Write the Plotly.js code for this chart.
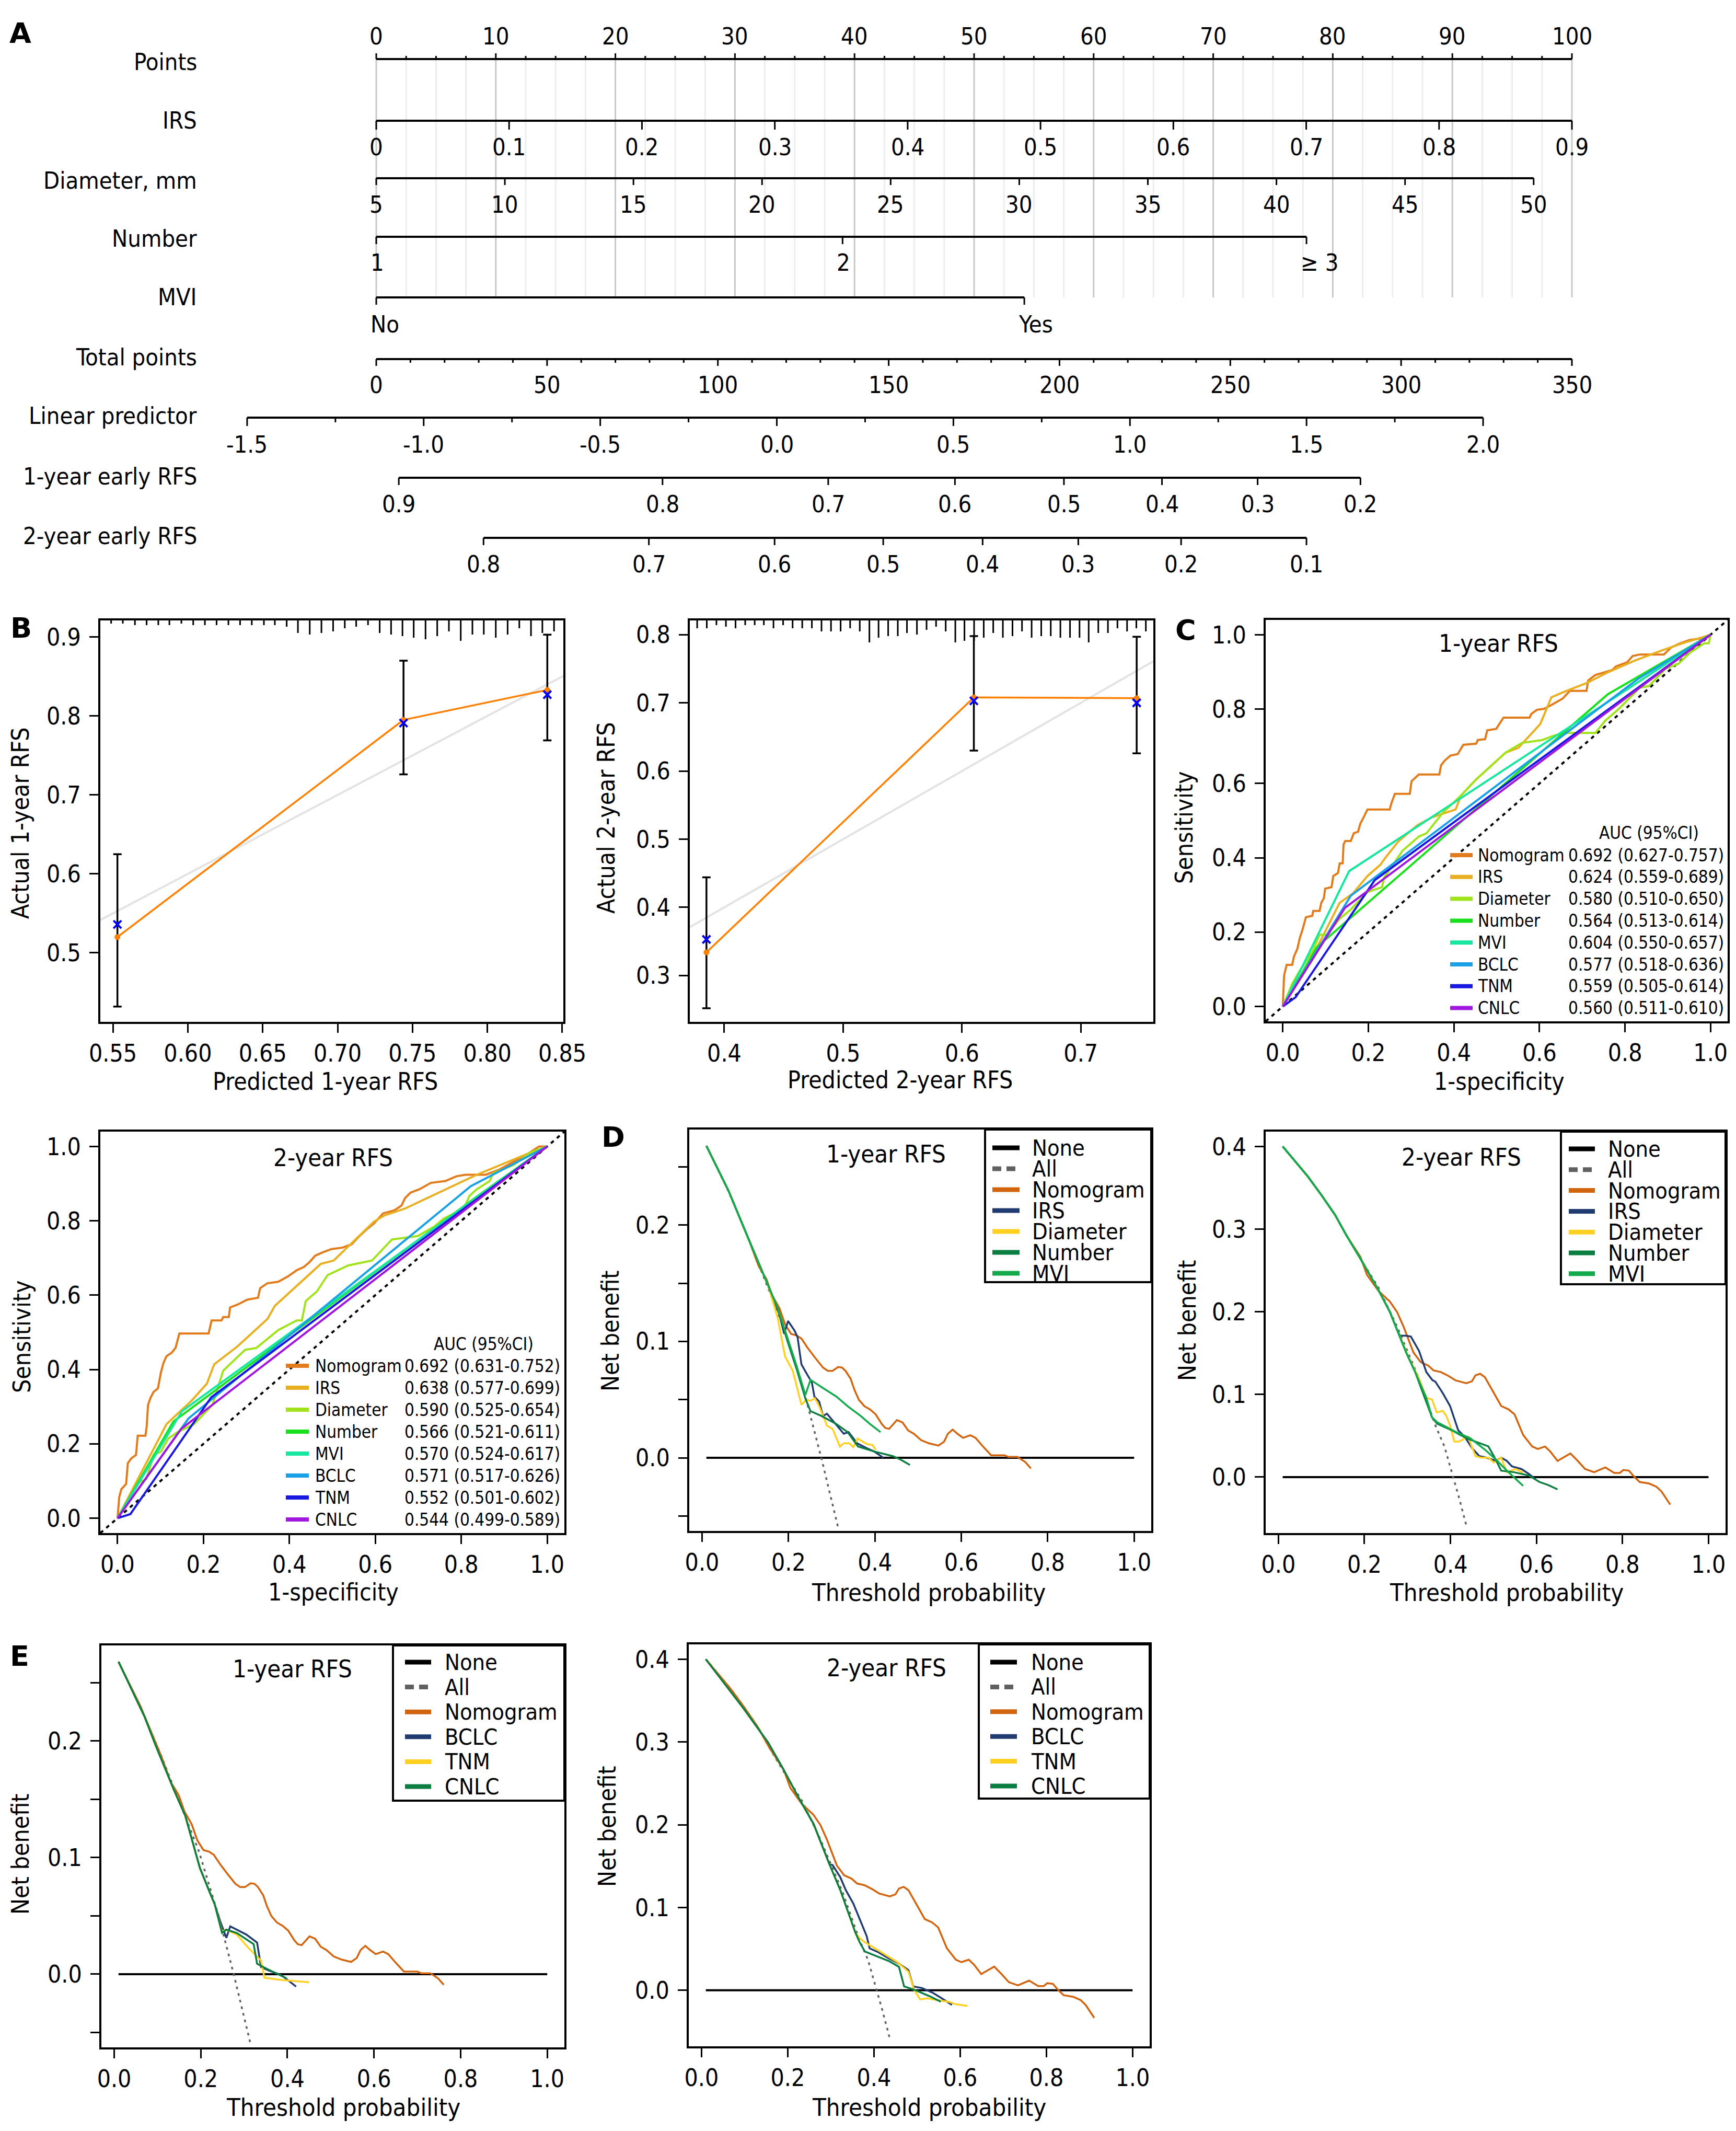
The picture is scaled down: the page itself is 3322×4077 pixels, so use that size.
<!DOCTYPE html>
<html>
<head>
<meta charset="utf-8">
<script src="https://cdn.plot.ly/plotly-3.0.1.min.js"></script>
<style>
  html, body { margin: 0; padding: 0; background: #fff; }
  #fig { width: 3322px; height: 4077px; }
</style>
</head>
<body>
<div id="fig"></div>
<script>
// ================= Data =================
// ---- A: nomogram scales ----
const nomoRowLabels = ['Points', 'IRS', 'Diameter, mm', 'Number', 'MVI', 'Total points',
  'Linear predictor', '1-year early RFS', '2-year early RFS'];
const pointsTicks = [0, 10, 20, 30, 40, 50, 60, 70, 80, 90, 100];
const pointsMinorStep = 2.5;
const irsTicks = [0, 0.1, 0.2, 0.3, 0.4, 0.5, 0.6, 0.7, 0.8, 0.9];
const irsScale = [0, 0.9];
const irsPointsScale = [0, 100];
const diameterTicks = [5, 10, 15, 20, 25, 30, 35, 40, 45, 50];
const diameterScale = [5, 50];
const diameterPointsScale = [0, 96.8];
const numberLevels = ['1', '2', '\u2265 3'];
const numberPoints = [0, 39.0, 77.8];
const mviLevels = ['No', 'Yes'];
const mviPoints = [0, 54.2];
const totalTicks = [0, 50, 100, 150, 200, 250, 300, 350];
const totalMinorStep = 10;
const totalScale = [0, 350];
const lpTicks = [-1.5, -1.0, -0.5, 0.0, 0.5, 1.0, 1.5, 2.0];
const lpMinorStep = 0.25;
const lpScale = [-1.5, 2.0];
const lpTotalScale = [-37.8, 324.0];
const rfs1Ticks = ['0.9', '0.8', '0.7', '0.6', '0.5', '0.4', '0.3', '0.2'];
const rfs1Total = [6.6, 83.8, 132.3, 169.4, 201.3, 230.0, 258.0, 288.1];
const rfs2Ticks = ['0.8', '0.7', '0.6', '0.5', '0.4', '0.3', '0.2', '0.1'];
const rfs2Total = [31.4, 79.8, 116.6, 148.4, 177.5, 205.5, 235.6, 272.3];

// ---- B: calibration ----
const cal1Pred = [0.553, 0.744, 0.840];
const cal1Apparent = [0.520, 0.795, 0.833];
const cal1Corrected = [0.536, 0.791, 0.827];
const cal1Lower = [0.432, 0.726, 0.769];
const cal1Upper = [0.625, 0.870, 0.903];
const cal1RugX = [0.5488, 0.5566, 0.5647, 0.5725, 0.5803, 0.5877, 0.5957, 0.6036, 0.6114, 0.6192,
  0.6271, 0.6349, 0.6427, 0.6508, 0.6581, 0.6660, 0.6735, 0.6814, 0.6892, 0.6970,
  0.7048, 0.7124, 0.7203, 0.7281, 0.7357, 0.7433, 0.7508, 0.7587, 0.7665, 0.7743,
  0.7822, 0.7900, 0.7976, 0.8056, 0.8135, 0.8213, 0.8291, 0.8367, 0.8445];
const cal1RugN = [2, 2, 3, 3, 3, 3, 2, 3, 3, 3, 3, 3, 3, 3, 3, 4, 8, 9, 8, 7,
  5, 4, 3, 8, 9, 10, 11, 12, 10, 7, 13, 9, 9, 11, 9, 5, 10, 8, 7];

const cal2Pred = [0.385, 0.610, 0.747];
const cal2Apparent = [0.334, 0.708, 0.707];
const cal2Corrected = [0.353, 0.703, 0.700];
const cal2Lower = [0.252, 0.630, 0.626];
const cal2Upper = [0.444, 0.798, 0.797];
const cal2RugX = [0.3772, 0.3853, 0.3934, 0.4014, 0.4095, 0.4176, 0.4256, 0.4333, 0.4414, 0.4495,
  0.4575, 0.4656, 0.4737, 0.4818, 0.4898, 0.4979, 0.5059, 0.5140, 0.5221, 0.5298,
  0.5379, 0.5460, 0.5537, 0.5621, 0.5702, 0.5782, 0.5863, 0.5944, 0.6021, 0.6102,
  0.6183, 0.6263, 0.6344, 0.6425, 0.6505, 0.6586, 0.6667, 0.6747, 0.6828, 0.6909,
  0.6989, 0.7066, 0.7147, 0.7228, 0.7308, 0.7389, 0.7467, 0.7547];
const cal2RugN = [5, 5, 3, 4, 5, 3, 3, 3, 5, 3, 5, 5, 5, 7, 7, 7, 5, 7, 14, 11,
  10, 10, 8, 9, 6, 4, 7, 14, 13, 13, 11, 8, 11, 10, 7, 11, 10, 10, 11, 11,
  11, 14, 8, 8, 5, 7, 5, 7];

// ---- C: ROC curves (1-specificity, sensitivity) ----
const rocNames = ['Nomogram', 'IRS', 'Diameter', 'Number', 'MVI', 'BCLC', 'TNM', 'CNLC'];
const auc1 = [0.692, 0.624, 0.580, 0.564, 0.604, 0.577, 0.559, 0.560];
const auc1Lo = [0.627, 0.559, 0.510, 0.513, 0.550, 0.518, 0.505, 0.511];
const auc1Hi = [0.757, 0.689, 0.650, 0.614, 0.657, 0.636, 0.614, 0.610];
const auc2 = [0.692, 0.638, 0.590, 0.566, 0.570, 0.571, 0.552, 0.544];
const auc2Lo = [0.631, 0.577, 0.525, 0.521, 0.524, 0.517, 0.501, 0.499];
const auc2Hi = [0.752, 0.699, 0.654, 0.611, 0.617, 0.626, 0.602, 0.589];

const roc1Nomogram = [[0,0],[0.003,0.083],[0.009,0.112],[0.022,0.112],[0.026,0.134],[0.034,0.155],[0.040,0.185],[0.047,0.21],[0.054,0.24],[0.069,0.244],[0.071,0.257],[0.086,0.257],[0.090,0.279],[0.096,0.291],[0.099,0.317],[0.114,0.321],[0.118,0.351],[0.129,0.359],[0.133,0.385],[0.140,0.385],[0.142,0.436],[0.146,0.445],[0.159,0.445],[0.166,0.466],[0.176,0.47],[0.181,0.491],[0.189,0.509],[0.198,0.53],[0.250,0.53],[0.254,0.547],[0.262,0.572],[0.297,0.572],[0.301,0.606],[0.318,0.624],[0.366,0.624],[0.370,0.649],[0.379,0.662],[0.392,0.675],[0.409,0.679],[0.413,0.687],[0.422,0.704],[0.452,0.707],[0.456,0.717],[0.473,0.719],[0.478,0.743],[0.499,0.747],[0.516,0.777],[0.577,0.777],[0.581,0.787],[0.594,0.798],[0.611,0.801],[0.628,0.811],[0.641,0.819],[0.654,0.828],[0.671,0.849],[0.710,0.849],[0.714,0.877],[0.731,0.892],[0.770,0.905],[0.779,0.915],[0.805,0.926],[0.818,0.943],[0.835,0.947],[0.891,0.947],[0.908,0.966],[0.929,0.977],[0.951,0.986],[0.977,0.990],[1,1]];
const roc1IRS = [[0,0],[0.047,0.087],[0.090,0.181],[0.133,0.279],[0.164,0.304],[0.198,0.351],[0.228,0.381],[0.241,0.402],[0.271,0.445],[0.314,0.487],[0.349,0.509],[0.404,0.53],[0.417,0.568],[0.452,0.611],[0.521,0.683],[0.551,0.696],[0.602,0.760],[0.628,0.832],[0.663,0.849],[0.710,0.870],[0.762,0.900],[0.822,0.930],[0.882,0.956],[0.934,0.977],[1,1]];
const roc1Diameter = [[0,0],[0.022,0.061],[0.039,0.095],[0.069,0.147],[0.086,0.193],[0.103,0.193],[0.133,0.236],[0.159,0.261],[0.198,0.308],[0.232,0.321],[0.237,0.347],[0.280,0.419],[0.318,0.457],[0.336,0.466],[0.374,0.521],[0.417,0.568],[0.448,0.606],[0.482,0.641],[0.521,0.683],[0.559,0.709],[0.607,0.717],[0.637,0.730],[0.667,0.736],[0.731,0.736],[0.753,0.768],[0.787,0.802],[0.813,0.832],[0.835,0.858],[0.856,0.862],[0.873,0.883],[0.895,0.909],[0.925,0.922],[0.951,0.951],[0.985,0.977],[0.996,0.977],[1,1]];
const roc1Number = [[0,0],[0.08,0.16],[0.76,0.84],[1,1]];
const roc1MVI = [[0,0],[0.155,0.364],[1,1]];
const roc1BCLC = [[0,0],[0.159,0.298],[0.830,0.881],[1,1]];
const roc1TNM = [[0,0],[0.03,0.025],[0.215,0.34],[1,1]];
const roc1CNLC = [[0,0],[0.145,0.265],[1,1]];

const roc2Nomogram = [[0,0],[0.004,0.057],[0.009,0.078],[0.020,0.092],[0.024,0.148],[0.032,0.161],[0.043,0.170],[0.047,0.222],[0.065,0.222],[0.068,0.248],[0.071,0.305],[0.077,0.324],[0.084,0.340],[0.094,0.349],[0.101,0.392],[0.107,0.418],[0.114,0.436],[0.126,0.445],[0.135,0.458],[0.139,0.475],[0.144,0.497],[0.212,0.497],[0.219,0.532],[0.242,0.532],[0.246,0.541],[0.259,0.541],[0.262,0.567],[0.280,0.575],[0.302,0.588],[0.327,0.593],[0.332,0.619],[0.349,0.632],[0.374,0.636],[0.396,0.650],[0.417,0.667],[0.434,0.676],[0.447,0.689],[0.460,0.706],[0.477,0.715],[0.498,0.724],[0.524,0.728],[0.545,0.737],[0.562,0.758],[0.579,0.776],[0.597,0.793],[0.618,0.820],[0.644,0.828],[0.661,0.841],[0.669,0.861],[0.682,0.876],[0.703,0.885],[0.729,0.902],[0.763,0.907],[0.789,0.920],[0.810,0.924],[0.857,0.924],[0.887,0.937],[0.956,0.981],[0.981,1.0],[1,1]];
const roc2IRS = [[0,0],[0.114,0.253],[0.174,0.318],[0.208,0.362],[0.225,0.414],[0.279,0.462],[0.349,0.536],[0.366,0.571],[0.473,0.684],[0.503,0.693],[0.597,0.798],[0.622,0.815],[0.669,0.833],[0.836,0.924],[0.956,0.981],[1,1]];
const roc2Diameter = [[0,0],[0.050,0.096],[0.067,0.105],[0.084,0.170],[0.101,0.179],[0.118,0.214],[0.139,0.231],[0.178,0.253],[0.221,0.305],[0.246,0.397],[0.297,0.453],[0.323,0.458],[0.374,0.506],[0.417,0.532],[0.429,0.532],[0.438,0.584],[0.464,0.610],[0.489,0.654],[0.537,0.680],[0.592,0.693],[0.639,0.750],[0.665,0.754],[0.699,0.759],[0.738,0.785],[0.759,0.806],[0.806,0.833],[0.819,0.867],[0.836,0.885],[0.866,0.907],[0.874,0.928],[0.921,0.950],[0.964,0.985],[1,1]];
const roc2Number = [[0,0],[0.13,0.26],[0.83,0.86],[1,1]];
const roc2MVI = [[0,0],[0.15,0.288],[1,1]];
const roc2BCLC = [[0,0],[0.165,0.268],[0.822,0.893],[1,1]];
const roc2TNM = [[0,0],[0.03,0.011],[0.218,0.325],[1,1]];
const roc2CNLC = [[0,0],[0.148,0.240],[1,1]];

// ---- D/E: decision curves (threshold, net benefit) ----
const dcaNone = [[0.01, 0], [1.0, 0]];
const dca1All = [[0.01,0.268],[0.061,0.229],[0.109,0.187],[0.153,0.146],[0.195,0.106],[0.241,0.050],[0.276,0.0],[0.315,-0.060]];
const dca1Nomogram = [[0.01,0.268],[0.061,0.2296],[0.109,0.1867],[0.131,0.1646],[0.149,0.1535],[0.162,0.1397],[0.179,0.1286],[0.192,0.1148],[0.206,0.1065],[0.219,0.1051],[0.230,0.1024],[0.245,0.0941],[0.262,0.0858],[0.280,0.0775],[0.291,0.0747],[0.302,0.0747],[0.315,0.078],[0.324,0.0775],[0.332,0.0747],[0.344,0.0678],[0.353,0.0581],[0.363,0.0498],[0.376,0.0443],[0.389,0.0415],[0.402,0.0373],[0.416,0.029],[0.424,0.0257],[0.433,0.0249],[0.451,0.0324],[0.464,0.0304],[0.477,0.0235],[0.490,0.0207],[0.507,0.0152],[0.525,0.0125],[0.547,0.0105],[0.560,0.0138],[0.569,0.0207],[0.580,0.0243],[0.591,0.0207],[0.604,0.0172],[0.621,0.0194],[0.633,0.0172],[0.647,0.0111],[0.669,0.0022],[0.700,0.0022],[0.709,0.0008],[0.730,0.0008],[0.748,-0.0036],[0.761,-0.0091]];
const dca1IRS = [[0.01,0.268],[0.061,0.2296],[0.109,0.1867],[0.153,0.148],[0.179,0.1231],[0.190,0.1065],[0.199,0.1176],[0.214,0.1093],[0.221,0.1037],[0.230,0.0802],[0.245,0.0705],[0.254,0.065],[0.260,0.0526],[0.271,0.0484],[0.280,0.036],[0.289,0.0379],[0.306,0.0304],[0.328,0.0207],[0.339,0.0221],[0.350,0.0166],[0.359,0.0125],[0.381,0.0083],[0.398,0.0055],[0.420,0.0]];
const dca1Diameter = [[0.01,0.268],[0.061,0.2296],[0.109,0.1867],[0.153,0.148],[0.175,0.1203],[0.192,0.0871],[0.210,0.0747],[0.221,0.0581],[0.230,0.0456],[0.241,0.0498],[0.251,0.049],[0.261,0.0512],[0.271,0.0443],[0.280,0.036],[0.289,0.0277],[0.302,0.0249],[0.319,0.0097],[0.328,0.0125],[0.341,0.0125],[0.350,0.0091],[0.360,0.0166],[0.381,0.0119],[0.394,0.0111],[0.402,0.0069]];
const dca1Number = [[0.01,0.268],[0.061,0.2296],[0.109,0.1867],[0.153,0.148],[0.175,0.1286],[0.197,0.101],[0.219,0.0761],[0.239,0.0512],[0.251,0.0401],[0.276,0.036],[0.311,0.029],[0.337,0.0221],[0.361,0.0097],[0.398,0.0055],[0.442,0.0014],[0.459,-0.0014],[0.481,-0.0061]];
const dca1MVI = [[0.01,0.268],[0.061,0.2296],[0.109,0.1867],[0.153,0.148],[0.175,0.1286],[0.197,0.1038],[0.219,0.0788],[0.239,0.054],[0.251,0.067],[0.276,0.0609],[0.311,0.0526],[0.337,0.0443],[0.367,0.036],[0.389,0.029],[0.413,0.0221]];
const dca1StageStart = [[0.01,0.268],[0.07,0.221],[0.096,0.196],[0.138,0.158],[0.164,0.136],[0.198,0.091],[0.219,0.0717],[0.232,0.0600]];
const dca1BCLC = dca1StageStart.concat([[0.245,0.0452],[0.253,0.0368],[0.259,0.0312],[0.268,0.041],[0.283,0.0382],[0.305,0.034],[0.330,0.0271],[0.339,0.0061],[0.356,0.0033],[0.386,-0.0008],[0.420,-0.0106]]);
const dca1TNM = dca1StageStart.concat([[0.249,0.0368],[0.259,0.0382],[0.283,0.034],[0.309,0.0229],[0.339,0.0117],[0.347,-0.0031],[0.386,-0.005],[0.420,-0.0059],[0.450,-0.007]]);
const dca1CNLC = dca1StageStart.concat([[0.249,0.0354],[0.259,0.0382],[0.283,0.0354],[0.322,0.0257],[0.330,0.0089],[0.352,0.0047],[0.398,-0.0036]]);

const dca2All = [[0.01,0.400],[0.028,0.389],[0.068,0.364],[0.099,0.342],[0.132,0.317],[0.157,0.2935],[0.191,0.264],[0.233,0.229],[0.276,0.182],[0.327,0.119],[0.365,0.0626],[0.386,0.037],[0.406,0.0],[0.420,-0.025],[0.437,-0.0587]];
const dca2Nomogram = [[0.01,0.40],[0.028,0.389],[0.068,0.364],[0.099,0.342],[0.132,0.317],[0.157,0.2935],[0.191,0.266],[0.206,0.2446],[0.233,0.225],[0.259,0.2125],[0.276,0.1996],[0.291,0.182],[0.301,0.168],[0.314,0.1507],[0.331,0.139],[0.348,0.135],[0.361,0.129],[0.378,0.127],[0.395,0.1225],[0.412,0.117],[0.437,0.1135],[0.450,0.116],[0.458,0.123],[0.469,0.125],[0.480,0.121],[0.497,0.1057],[0.518,0.086],[0.535,0.082],[0.549,0.076],[0.569,0.051],[0.590,0.037],[0.603,0.034],[0.620,0.037],[0.632,0.031],[0.649,0.0196],[0.662,0.0235],[0.679,0.0286],[0.696,0.0196],[0.713,0.0098],[0.734,0.0059],[0.760,0.0117],[0.781,0.0051],[0.794,0.0051],[0.802,0.0086],[0.815,0.0078],[0.828,0.0],[0.840,-0.0059],[0.862,-0.0078],[0.879,-0.0117],[0.891,-0.0176],[0.911,-0.0333]];
const dca2FactorStart = [[0.01,0.400],[0.028,0.389],[0.068,0.364],[0.099,0.342],[0.132,0.317],[0.157,0.2935],[0.191,0.264],[0.233,0.226],[0.259,0.200],[0.276,0.178]];
const dca2IRS = dca2FactorStart.concat([[0.283,0.171],[0.297,0.171],[0.308,0.170],[0.327,0.1526],[0.344,0.127],[0.358,0.1174],[0.365,0.1154],[0.382,0.1017],[0.399,0.0861],[0.418,0.0567],[0.433,0.0489],[0.450,0.0352],[0.467,0.0254],[0.484,0.0235],[0.505,0.0196],[0.518,0.0235],[0.531,0.0196],[0.543,0.0129],[0.565,0.0098],[0.582,0.0039],[0.598,-0.0027]]);
const dca2Diameter = dca2FactorStart.concat([[0.283,0.170],[0.301,0.1467],[0.327,0.119],[0.344,0.0959],[0.357,0.0939],[0.368,0.0783],[0.382,0.0802],[0.390,0.0744],[0.399,0.0626],[0.409,0.043],[0.420,0.043],[0.441,0.0489],[0.458,0.0254],[0.471,0.0235],[0.488,0.0235],[0.501,0.0176],[0.518,0.0235],[0.531,0.0059],[0.552,0.0098],[0.569,0.0051]]);
const dca2Number = dca2FactorStart.concat([[0.297,0.1507],[0.318,0.127],[0.344,0.09],[0.357,0.0724],[0.369,0.0646],[0.403,0.0567],[0.437,0.047],[0.467,0.0411],[0.488,0.0372],[0.501,0.0254],[0.518,0.0078],[0.548,0.0059],[0.582,0.002],[0.607,-0.0059],[0.628,-0.0098],[0.649,-0.0149]]);
const dca2MVI = dca2FactorStart.concat([[0.297,0.1507],[0.318,0.127],[0.344,0.0959],[0.357,0.0724],[0.369,0.0665],[0.412,0.0548],[0.446,0.047],[0.480,0.0333],[0.509,0.0196],[0.535,0.0059],[0.569,-0.0106]]);
const dca2StageStart = [[0.01,0.400],[0.048,0.374],[0.097,0.341],[0.154,0.2997],[0.189,0.268],[0.225,0.233],[0.260,0.201],[0.297,0.152]];
const dca2BCLC = dca2StageStart.concat([[0.304,0.1514],[0.322,0.1365],[0.335,0.1207],[0.352,0.105],[0.366,0.0873],[0.383,0.0657],[0.390,0.0507],[0.410,0.046],[0.436,0.0381],[0.458,0.0323],[0.480,0.0244],[0.491,0.0047],[0.511,0.0028],[0.537,-0.0031],[0.555,-0.009],[0.581,-0.0177]]);
const dca2TNM = dca2StageStart.concat([[0.322,0.121],[0.357,0.0696],[0.366,0.0637],[0.374,0.0598],[0.392,0.0539],[0.419,0.0452],[0.454,0.0342],[0.480,0.0224],[0.493,0.0008],[0.507,-0.011],[0.524,-0.0098],[0.551,-0.0122],[0.573,-0.0138],[0.590,-0.0169],[0.617,-0.0189]]);
const dca2CNLC = dca2StageStart.concat([[0.322,0.121],[0.357,0.0696],[0.367,0.0578],[0.379,0.0468],[0.410,0.0401],[0.436,0.035],[0.458,0.0283],[0.470,0.0047],[0.493,0.0008],[0.529,-0.0071],[0.555,-0.0138]]);

// ================= Styling =================
const W = 3322, H = 4077;
const FONT = 'DejaVu Sans Condensed, DejaVu Sans, sans-serif';
const fx = px => px / W;
const fy = py => 1 - py / H;
const rocColors = ['#E27B1B', '#E8B020', '#A0E31A', '#19E01C', '#16E6A0', '#1AA0E4', '#1818E0', '#A018E0'];
const dcaColors = { None: '#000000', All: '#606060', Nomogram: '#D2640E', IRS: '#1F3B70',
  Diameter: '#FFD020', Number: '#0A7D40', MVI: '#12AA4C', BCLC: '#1F3B70', TNM: '#FFD020', CNLC: '#0A7D40' };

const traces = [];
const annotations = [];
const shapes = [];
const layout = {
  width: W, height: H,
  margin: { l: 0, r: 0, t: 0, b: 0, pad: 0 },
  paper_bgcolor: '#ffffff', plot_bgcolor: 'rgba(0,0,0,0)',
  showlegend: false,
  font: { family: FONT, color: '#000' },
  annotations, shapes
};

function fnt(size, extra) { return Object.assign({ family: FONT, size: size, color: '#000' }, extra || {}); }
function addText(text, px, py, size, opts) {
  annotations.push(Object.assign({ text: text, xref: 'paper', yref: 'paper', x: fx(px), y: fy(py),
    showarrow: false, xanchor: 'center', yanchor: 'middle', font: fnt(size) }, opts || {}));
}
function ax(n) { return n === 1 ? '' : String(n); }
function addLine(n, pts, color, width, dash) {
  traces.push({ type: 'scatter', mode: 'lines', x: pts.map(p => p[0]), y: pts.map(p => p[1]),
    xaxis: 'x' + ax(n), yaxis: 'y' + ax(n), line: { color: color, width: width, dash: dash || 'solid' },
    hoverinfo: 'skip' });
}
const axisCommon = {
  showline: true, mirror: true, linecolor: '#000', linewidth: 4,
  ticks: 'outside', ticklen: 17, tickwidth: 3, tickcolor: '#000',
  showgrid: false, zeroline: false, tickfont: fnt(46), fixedrange: true
};
function ticksOf(vals, digits) { return { tickvals: vals, ticktext: vals.map(v => v.toFixed(digits)) }; }
function addAxes(n, box, xr, yr, xt, yt) {
  layout['xaxis' + n] = Object.assign({}, axisCommon, { domain: [fx(box.x[0]), fx(box.x[1])], range: xr,
    anchor: 'y' + n, tickmode: 'array', ticklabelstandoff: 0 }, xt);
  layout['yaxis' + n] = Object.assign({}, axisCommon, { domain: [fy(box.y[1]), fy(box.y[0])], range: yr,
    anchor: 'x' + n, tickmode: 'array', ticklabelstandoff: 7 }, yt);
}

// ================= Panel A: nomogram =================
// points axis: 0 -> 720 px, 100 -> 3008 px
const NOMO_PX0 = 720, NOMO_PXPP = 22.88;
layout.xaxis = { domain: [0, 1], range: [(0 - NOMO_PX0) / NOMO_PXPP, (W - NOMO_PX0) / NOMO_PXPP],
  visible: false, fixedrange: true, anchor: 'y' };
layout.yaxis = { domain: [fy(1120), 1], range: [1120, 0], visible: false, fixedrange: true, anchor: 'x' };

const lin = (v, d, r) => r[0] + (v - d[0]) * (r[1] - r[0]) / (d[1] - d[0]);
const tpToU = tp => lin(tp, totalScale, [0, 100]);

const rowY = [113, 231, 341, 453, 569, 687, 799, 914, 1029];
const rowLabY = [69, 281, 391, 502, 620, 736, 850, 964, 1079];
const rowNameY = [118, 230, 345, 457, 569, 684, 796, 911, 1025];

const gMaj = { x: [], y: [] }, gMin = { x: [], y: [] }, nLines = { x: [], y: [] }, nTicks = { x: [], y: [] };
const seg = (o, x0, y0, x1, y1) => { o.x.push(x0, x1, null); o.y.push(y0, y1, null); };

function nomoLabel(text, u, py, anchor, xshift) {
  annotations.push({ text: text, xref: 'x', yref: 'y', x: u, y: py, showarrow: false,
    xanchor: anchor || 'center', yanchor: 'middle', xshift: xshift || 0, font: fnt(45) });
}
function nomoRow(i, us, labels, dir, len, anchor, xshift) {
  const y = rowY[i];
  seg(nLines, Math.min(...us), y, Math.max(...us), y);
  us.forEach((u, k) => {
    seg(nTicks, u, y, u, y + dir * len);
    nomoLabel(labels[k], u, rowLabY[i], anchor, xshift);
  });
}

// grid of points
for (let u = 0; u <= 100 + 1e-9; u += pointsMinorStep) {
  const major = Math.abs(u / 10 - Math.round(u / 10)) < 1e-9;
  seg(major ? gMaj : gMin, u, rowY[0], u, rowY[4]);
}
// Points (ticks upward)
nomoRow(0, pointsTicks, pointsTicks.map(String), -1, 11);
for (let u = 0; u <= 100 + 1e-9; u += pointsMinorStep) {
  if (Math.abs(u / 10 - Math.round(u / 10)) > 1e-9) seg(nTicks, u, rowY[0], u, rowY[0] - 6);
}
// IRS
nomoRow(1, irsTicks.map(v => lin(v, irsScale, irsPointsScale)), irsTicks.map(v => v === 0 ? '0' : v.toFixed(1)), 1, 17);
// Diameter
nomoRow(2, diameterTicks.map(v => lin(v, diameterScale, diameterPointsScale)), diameterTicks.map(String), 1, 13);
// Number, MVI (categorical labels start just left of their tick)
nomoRow(3, numberPoints, numberLevels, 1, 14, 'left', -13);
nomoRow(4, mviPoints, mviLevels, 1, 14, 'left', -13);
// Total points
nomoRow(5, totalTicks.map(tpToU), totalTicks.map(String), 1, 13);
for (let t = totalScale[0]; t <= totalScale[1] + 1e-9; t += totalMinorStep) {
  if (t % 50 !== 0) seg(nTicks, tpToU(t), rowY[5], tpToU(t), rowY[5] + 7);
}
// Linear predictor
nomoRow(6, lpTicks.map(v => tpToU(lin(v, lpScale, lpTotalScale))), lpTicks.map(v => v.toFixed(1)), 1, 16);
for (let v = lpScale[0]; v <= lpScale[1] + 1e-9; v += lpMinorStep) {
  if (Math.abs(v * 2 - Math.round(v * 2)) > 1e-9) {
    const u = tpToU(lin(v, lpScale, lpTotalScale));
    seg(nTicks, u, rowY[6], u, rowY[6] + 9);
  }
}
// Survival probabilities
nomoRow(7, rfs1Total.map(tpToU), rfs1Ticks, 1, 14);
nomoRow(8, rfs2Total.map(tpToU), rfs2Ticks, 1, 14);

traces.push({ type: 'scatter', mode: 'lines', x: gMin.x, y: gMin.y, xaxis: 'x', yaxis: 'y',
  line: { color: '#EDEDED', width: 3 }, hoverinfo: 'skip' });
traces.push({ type: 'scatter', mode: 'lines', x: gMaj.x, y: gMaj.y, xaxis: 'x', yaxis: 'y',
  line: { color: '#C8C8C8', width: 3 }, hoverinfo: 'skip' });
traces.push({ type: 'scatter', mode: 'lines', x: nLines.x, y: nLines.y, xaxis: 'x', yaxis: 'y',
  line: { color: '#000', width: 4 }, hoverinfo: 'skip' });
traces.push({ type: 'scatter', mode: 'lines', x: nTicks.x, y: nTicks.y, xaxis: 'x', yaxis: 'y',
  line: { color: '#000', width: 3 }, hoverinfo: 'skip' });
nomoRowLabels.forEach((t, i) => addText(t, 379, rowNameY[i], 45, { xanchor: 'right' }));

// ================= Panel geometry =================
const boxB1 = { x: [192, 1078], y: [1187, 1955] };
const boxB2 = { x: [1320, 2207], y: [1187, 1955] };
const boxC = { x: [2422, 3306], y: [1186, 1954] };
const boxR2 = { x: [192, 1080], y: [2165, 2933] };
const boxD1 = { x: [1319, 2203], y: [2161, 2929] };
const boxD2 = { x: [2422, 3302], y: [2165, 2933] };
const boxE1 = { x: [194, 1080], y: [3148, 3917] };
const boxE2 = { x: [1318, 2200], y: [3146, 3915] };

// ================= Panel B: calibration =================
function calibration(n, box, xr, yr, pred, app, corr, lo, hi, rugX, rugN) {
  // ideal line
  addLine(n, [[xr[0], xr[0]], [xr[1], xr[1]]], '#E3E3E3', 4);
  // rug of predicted values along the top edge
  const k = 3 * (yr[1] - yr[0]) / (box.y[1] - box.y[0]);
  const rx = [], ry = [];
  rugX.forEach((v, i) => { rx.push(v, v, null); ry.push(yr[1], yr[1] - rugN[i] * k, null); });
  traces.push({ type: 'scatter', mode: 'lines', x: rx, y: ry, xaxis: 'x' + n, yaxis: 'y' + n,
    line: { color: '#000', width: 3 }, hoverinfo: 'skip' });
  // observed with CI
  traces.push({ type: 'scatter', mode: 'lines+markers', x: pred, y: app, xaxis: 'x' + n, yaxis: 'y' + n,
    line: { color: '#FF8000', width: 3.5 }, marker: { color: '#FF8000', size: 11 },
    error_y: { type: 'data', symmetric: false, array: hi.map((h, i) => h - app[i]),
      arrayminus: lo.map((l, i) => app[i] - l), color: '#000', thickness: 3.5, width: 8 },
    hoverinfo: 'skip' });
  traces.push({ type: 'scatter', mode: 'markers', x: pred, y: corr, xaxis: 'x' + n, yaxis: 'y' + n,
    marker: { symbol: 'x-thin', size: 15, line: { color: '#0000FF', width: 4 } }, hoverinfo: 'skip' });
}
const b1x = [0.5416, 0.8507], b1y = [0.4126, 0.921];
addAxes(2, boxB1, b1x, b1y, ticksOf([0.55, 0.60, 0.65, 0.70, 0.75, 0.80, 0.85], 2), ticksOf([0.5, 0.6, 0.7, 0.8, 0.9], 1));
calibration(2, boxB1, b1x, b1y, cal1Pred, cal1Apparent, cal1Corrected, cal1Lower, cal1Upper, cal1RugX, cal1RugN);
const b2x = [0.371, 0.761], b2y = [0.232, 0.821];
addAxes(3, boxB2, b2x, b2y, ticksOf([0.4, 0.5, 0.6, 0.7], 1), ticksOf([0.3, 0.4, 0.5, 0.6, 0.7, 0.8], 1));
calibration(3, boxB2, b2x, b2y, cal2Pred, cal2Apparent, cal2Corrected, cal2Lower, cal2Upper, cal2RugX, cal2RugN);
addText('Predicted 1-year RFS', 622, 2069, 46);
addText('Actual 1-year RFS', 39, 1575, 46, { textangle: -90 });
addText('Predicted 2-year RFS', 1722, 2066, 46);
addText('Actual 2-year RFS', 1160, 1565, 46, { textangle: -90 });

// ================= Panel C: ROC =================
const rocRange = [-0.04, 1.04];
const unitTicks = ticksOf([0, 0.2, 0.4, 0.6, 0.8, 1.0], 1);
function rocPanel(n, curves, aucs, los, his, leg) {
  addLine(n, [[rocRange[0], rocRange[0]], [rocRange[1], rocRange[1]]], '#000', 4, '7px,8px');
  curves.forEach((c, i) => addLine(n, c, rocColors[i], 4));
  addText('AUC (95%CI)', leg.headX, leg.headY, 33);
  rocNames.forEach((nm, i) => {
    const y = leg.row0 + i * leg.dy;
    shapes.push({ type: 'line', xref: 'paper', yref: 'paper', x0: fx(leg.sw[0]), x1: fx(leg.sw[1]),
      y0: fy(y), y1: fy(y), line: { color: rocColors[i], width: 8 } });
    addText(nm, leg.textX, y, 33, { xanchor: 'left' });
    addText(aucs[i].toFixed(3) + ' (' + los[i].toFixed(3) + '-' + his[i].toFixed(3) + ')', leg.valX, y, 33, { xanchor: 'left' });
  });
}
addAxes(4, boxC, rocRange, rocRange, unitTicks, unitTicks);
rocPanel(4, [roc1Nomogram, roc1IRS, roc1Diameter, roc1Number, roc1MVI, roc1BCLC, roc1TNM, roc1CNLC],
  auc1, auc1Lo, auc1Hi, { headX: 3155, headY: 1593, row0: 1636, dy: 41.8, sw: [2775, 2818], textX: 2826, valX: 2999 });
addText('1-year RFS', 2867, 1230, 47);
addText('1-specificity', 2869, 2069, 46);
addText('Sensitivity', 2266, 1584, 46, { textangle: -90 });

addAxes(5, boxR2, rocRange, rocRange, unitTicks, unitTicks);
rocPanel(5, [roc2Nomogram, roc2IRS, roc2Diameter, roc2Number, roc2MVI, roc2BCLC, roc2TNM, roc2CNLC],
  auc2, auc2Lo, auc2Hi, { headX: 925, headY: 2571, row0: 2613, dy: 42, sw: [547, 591], textX: 601, valX: 772 });
addText('2-year RFS', 637, 2214, 47);
addText('1-specificity', 638, 3046, 46);
addText('Sensitivity', 42, 2558, 46, { textangle: -90 });

// ================= Panels D & E: decision curves =================
const dcaX = [-0.0296, 1.0396];
const dca1Y = [-0.0628, 0.282];
const dca2Y = [-0.0677, 0.418];
const dca1YTicks = { tickvals: [-0.05, 0, 0.05, 0.1, 0.15, 0.2, 0.25], ticktext: ['', '0.0', '', '0.1', '', '0.2', ''] };
const dca2YTicks = ticksOf([0, 0.1, 0.2, 0.3, 0.4], 1);
function dcaPanel(n, names, curves, leg) {
  curves.forEach((c, i) => {
    const nm = names[i];
    if (nm === 'None') addLine(n, c, '#000', 4);
    else if (nm === 'All') addLine(n, c, '#606060', 3.5, '5px,8px');
    else addLine(n, c, dcaColors[nm], 3.5);
  });
  shapes.push({ type: 'rect', xref: 'paper', yref: 'paper', x0: fx(leg.box[0]), x1: fx(leg.box[1]),
    y0: fy(leg.box[3]), y1: fy(leg.box[2]), line: { color: '#000', width: 4 }, fillcolor: 'rgba(0,0,0,0)' });
  names.forEach((nm, i) => {
    const y = leg.row0 + i * leg.dy;
    shapes.push({ type: 'line', xref: 'paper', yref: 'paper', x0: fx(leg.sw[0]), x1: fx(leg.sw[1]),
      y0: fy(y), y1: fy(y), line: { color: dcaColors[nm], width: 9, dash: nm === 'All' ? '17px,10px' : 'solid' } });
    addText(nm, leg.textX, y, 43, { xanchor: 'left' });
  });
}
const dcaNamesD = ['None', 'All', 'Nomogram', 'IRS', 'Diameter', 'Number', 'MVI'];
const dcaNamesE = ['None', 'All', 'Nomogram', 'BCLC', 'TNM', 'CNLC'];
const dcaXTicks = unitTicks;

addAxes(6, boxD1, dcaX, dca1Y, dcaXTicks, dca1YTicks);
dcaPanel(6, dcaNamesD, [dcaNone, dca1All, dca1Nomogram, dca1IRS, dca1Diameter, dca1Number, dca1MVI],
  { box: [1885, 2203, 2161, 2453], row0: 2196, dy: 40, sw: [1899, 1951], textX: 1973 });
addText('1-year RFS', 1695, 2207, 47);
addText('Threshold probability', 1777, 3046, 47);
addText('Net benefit', 1168, 2546, 46, { textangle: -90 });

addAxes(7, boxD2, dcaX, dca2Y, dcaXTicks, dca2YTicks);
dcaPanel(7, dcaNamesD, [dcaNone, dca2All, dca2Nomogram, dca2IRS, dca2Diameter, dca2Number, dca2MVI],
  { box: [2987, 3302, 2165, 2457], row0: 2198, dy: 39.8, sw: [3002, 3052], textX: 3075 });
addText('2-year RFS', 2796, 2213, 47);
addText('Threshold probability', 2883, 3046, 47);
addText('Net benefit', 2272, 2526, 46, { textangle: -90 });

addAxes(8, boxE1, dcaX, dca1Y, dcaXTicks, dca1YTicks);
dcaPanel(8, dcaNamesE, [dcaNone, dca1All, dca1Nomogram, dca1BCLC, dca1TNM, dca1CNLC],
  { box: [752, 1080, 3148, 3445], row0: 3180, dy: 47.6, sw: [775, 825], textX: 849 });
addText('1-year RFS', 559, 3192, 47);
addText('Threshold probability', 657, 4031, 47);
addText('Net benefit', 39, 3547, 46, { textangle: -90 });

addAxes(9, boxE2, dcaX, dca2Y, dcaXTicks, dca2YTicks);
dcaPanel(9, dcaNamesE, [dcaNone, dca2All, dca2Nomogram, dca2BCLC, dca2TNM, dca2CNLC],
  { box: [1873, 2200, 3146, 3441], row0: 3180, dy: 47.4, sw: [1895, 1946], textX: 1971 });
addText('2-year RFS', 1696, 3190, 47);
addText('Threshold probability', 1778, 4031, 47);
addText('Net benefit', 1162, 3494, 46, { textangle: -90 });

// ================= Panel letters =================
const LETTER = { family: 'DejaVu Sans, sans-serif', size: 54, color: '#000' };
[['A', 39, 64], ['B', 40, 1201], ['C', 2269, 1205], ['D', 1173, 2175], ['E', 37, 3168]]
  .forEach(l => addText('<b>' + l[0] + '</b>', l[1], l[2], 54, { font: LETTER }));

Plotly.newPlot('fig', traces, layout, { staticPlot: true });
</script>
</body>
</html>
